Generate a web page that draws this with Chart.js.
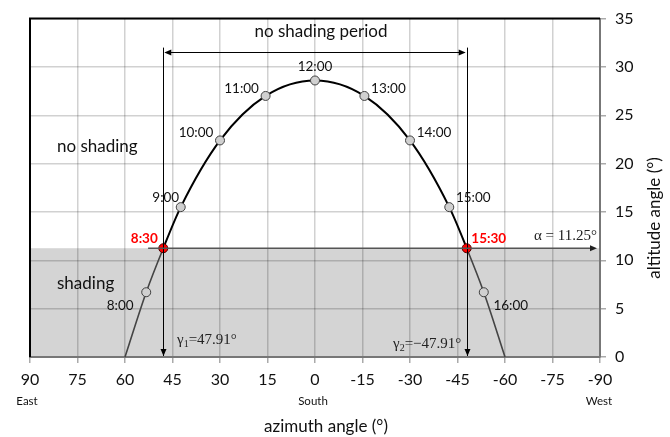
<!DOCTYPE html>
<html>
<head>
<meta charset="utf-8">
<script src="https://cdn.jsdelivr.net/npm/chart.js@4/dist/chart.umd.min.js"></script>
<style>
  html, body { margin: 0; padding: 0; background: #fff; }
  #wrap { width: 670px; height: 437px; position: relative; }
</style>
</head>
<body>
<div id="wrap"><canvas id="sunChart"></canvas></div>
<script>
// sun path points
const hours    = ["", "8:00", "8:30", "9:00", "10:00", "11:00", "12:00", "13:00", "14:00", "15:00", "15:30", "16:00", ""];
const azimuth  = [60, 53.3, 47.91, 42.4, 30.0, 15.6, 0, -15.6, -30.0, -42.4, -47.91, -53.3, -60];
const altitude = [0, 6.7, 11.25, 15.5, 22.4, 27.0, 28.6, 27.0, 22.4, 15.5, 11.25, 6.7, 0];

const xTicks = [90, 75, 60, 45, 30, 15, 0, -15, -30, -45, -60, -75, -90];
const yTicks = [0, 5, 10, 15, 20, 25, 30, 35];
const directions = [[90, "East"], [0, "South"], [-90, "West"]];

const shadingAltitude = 11.25;
const gamma1 = 47.91;
const gamma2 = -47.91;

const FONT = "Lato, 'Open Sans', sans-serif";
const SERIF = "'Liberation Serif', 'DejaVu Serif', serif";

function arrowHead(ctx, x, y, dir) {
  // dir: "left" | "right" | "down"
  ctx.beginPath();
  if (dir === "down") {
    ctx.moveTo(x, y); ctx.lineTo(x - 3, y - 7); ctx.lineTo(x + 3, y - 7);
  } else if (dir === "left") {
    ctx.moveTo(x, y); ctx.lineTo(x + 7, y - 3); ctx.lineTo(x + 7, y + 3);
  } else {
    ctx.moveTo(x, y); ctx.lineTo(x - 7, y - 3); ctx.lineTo(x - 7, y + 3);
  }
  ctx.closePath();
  ctx.fill();
}

// background shading under the obstruction angle
const shadePlugin = {
  id: "shade",
  beforeDraw(chart) {
    const { ctx, chartArea: a, scales } = chart;
    const yTop = scales.y.getPixelForValue(shadingAltitude);
    ctx.save();
    ctx.fillStyle = "#d4d4d4";
    ctx.fillRect(a.left, yTop, a.right - a.left, a.bottom - yTop);
    ctx.restore();
  }
};

// labels, arrows and frame
const notesPlugin = {
  id: "notes",
  afterDraw(chart) {
    const { ctx, chartArea: a, scales } = chart;
    const x = scales.x, y = scales.y;
    ctx.save();

    // frame: left and top dark
    ctx.strokeStyle = "#000";
    ctx.lineWidth = 2;
    ctx.beginPath();
    ctx.moveTo(a.left, a.bottom);
    ctx.lineTo(a.left, a.top);
    ctx.lineTo(a.right, a.top);
    ctx.stroke();

    // vertical lines at gamma angles
    ctx.strokeStyle = "#000";
    ctx.fillStyle = "#000";
    ctx.lineWidth = 1;
    const topV = y.getPixelForValue(32.0);
    [gamma1, gamma2].forEach(g => {
      const px = Math.round(x.getPixelForValue(g)) + 0.5;
      ctx.beginPath();
      ctx.moveTo(px, topV);
      ctx.lineTo(px, a.bottom - 1);
      ctx.stroke();
      arrowHead(ctx, px, a.bottom - 1, "down");
    });

    // no shading period double arrow
    const py = Math.round(y.getPixelForValue(31.5)) + 0.5;
    const x1 = x.getPixelForValue(gamma1) + 1, x2 = x.getPixelForValue(gamma2) - 1;
    ctx.beginPath();
    ctx.moveTo(x1 + 4, py);
    ctx.lineTo(x2 - 4, py);
    ctx.stroke();
    arrowHead(ctx, x1, py, "left");
    arrowHead(ctx, x2, py, "right");

    // alpha line
    ctx.strokeStyle = "#555";
    ctx.fillStyle = "#222";
    ctx.lineWidth = 1.5;
    const ay = y.getPixelForValue(shadingAltitude);
    const axEnd = a.right - 3;
    ctx.beginPath();
    ctx.moveTo(x.getPixelForValue(52.7), ay);
    ctx.lineTo(axEnd - 5, ay);
    ctx.stroke();
    arrowHead(ctx, axEnd, ay, "right");

    // hour labels next to points
    const meta = chart.getDatasetMeta(0);
    meta.data.forEach((pt, i) => {
      const label = hours[i];
      if (!label) return;
      const az = azimuth[i], alt = altitude[i];
      const half = label.indexOf(":30") > 0;
      let dx = 0, dy = -14;
      if (az > 0) { dx = alt < shadingAltitude ? -26 : (half ? -19 : (az > 35 ? -15 : -24)); }
      if (az < 0) { dx = alt < shadingAltitude ? 27 : (half ? 22 : 24); }
      if (az !== 0) dy = alt < shadingAltitude ? 13 : (half ? -10 : (Math.abs(az) > 35 ? -9 : -7.5));
      ctx.font = (half ? "bold " : "") + "13.5px " + FONT;
      ctx.fillStyle = half ? "#ff0000" : "#111";
      ctx.textAlign = "center";
      ctx.textBaseline = "middle";
      ctx.fillText(label, pt.x + dx, pt.y + dy);
    });

    // region texts
    ctx.fillStyle = "#111";
    ctx.font = "17px " + FONT;
    ctx.textAlign = "left";
    ctx.textBaseline = "middle";
    ctx.fillText("no shading", 57, 147);
    ctx.fillText("shading", 57, 284);
    ctx.textAlign = "center";
    ctx.fillText("no shading period", (x1 + x2) / 2 + 6, 32);

    // serif formula texts
    ctx.font = "15px " + SERIF;
    ctx.textAlign = "right";
    ctx.fillStyle = "#222";
    ctx.fillText("\u03b1 = 11.25\u00b0", a.right - 3, 236);
    ctx.textAlign = "left";
    ctx.fillText("\u03b3", 177, 340);
    let w = ctx.measureText("\u03b3").width;
    ctx.font = "10px " + SERIF;
    ctx.fillText("1", 177 + w, 344);
    let w1 = ctx.measureText("1").width;
    ctx.font = "15px " + SERIF;
    ctx.fillText("=47.91\u00b0", 177 + w + w1, 340);

    ctx.fillText("\u03b3", 393, 344);
    w = ctx.measureText("\u03b3").width;
    ctx.font = "10px " + SERIF;
    ctx.fillText("2", 393 + w, 348);
    w1 = ctx.measureText("2").width;
    ctx.font = "15px " + SERIF;
    ctx.fillText("=\u221247.91\u00b0", 393 + w + w1, 344);

    // direction words under the x ticks
    ctx.font = "11.5px " + FONT;
    ctx.fillStyle = "#111";
    ctx.textAlign = "center";
    directions.forEach(([v, t]) => {
      const px = x.getPixelForValue(v) + (v === 90 ? -3 : (v === -90 ? -1 : -2));
      ctx.fillText(t, px, 401);
    });

    // axis titles
    ctx.font = "17px " + FONT;
    ctx.fillText("azimuth angle (\u00b0)", 326, 427);
    ctx.translate(655, 218);
    ctx.rotate(-Math.PI / 2);
    ctx.fillText("altitude angle (\u00b0)", 0, 0);

    ctx.restore();
  }
};

const ctx = document.getElementById("sunChart").getContext("2d");
new Chart(ctx, {
  type: "line",
  data: {
    datasets: [
      {
        label: "sun path",
        data: azimuth.map((az, i) => ({ x: az, y: altitude[i] })),
        borderColor: "#000",
        borderWidth: 2,
        cubicInterpolationMode: "monotone",
        fill: false,
        segment: {
          borderColor: c => (c.p0.parsed.y < shadingAltitude - 0.01 || c.p1.parsed.y < shadingAltitude - 0.01) ? "#444" : "#000",
          borderWidth: c => (c.p0.parsed.y < shadingAltitude - 0.01 || c.p1.parsed.y < shadingAltitude - 0.01) ? 1.6 : 2
        },
        pointRadius: c => (altitude[c.dataIndex] === 0 ? 0 : 4.5),
        pointBackgroundColor: c => (hours[c.dataIndex].indexOf(":30") > 0 ? "#ff0000" : "#d0d0d0"),
        pointBorderColor: c => (hours[c.dataIndex].indexOf(":30") > 0 ? "#550000" : "#404040"),
        pointBorderWidth: 1,
        clip: false
      }
    ]
  },
  options: {
    responsive: true,
    maintainAspectRatio: false,
    animation: false,
    layout: { padding: { left: 30, top: 15, right: 0, bottom: 0 } },
    plugins: {
      legend: { display: false },
      tooltip: { enabled: false }
    },
    scales: {
      x: {
        type: "linear",
        position: "bottom",
        min: -90,
        max: 90,
        reverse: true,
        afterBuildTicks: s => { s.ticks = xTicks.map(v => ({ value: v })); },
        afterFit: s => { s.height = 80; },
        ticks: {
          color: "#111",
          font: { family: FONT, size: 16 },
          padding: 7,
          maxRotation: 0,
          autoSkip: false
        },
        grid: {
          color: "rgba(0,0,0,0.18)",
          lineWidth: 1.5,
          tickLength: 6,
          tickColor: "#aaa",
          tickWidth: 1.5
        },
        border: { color: "#777", width: 2 }
      },
      y: {
        type: "linear",
        position: "right",
        min: 0,
        max: 35,
        afterBuildTicks: s => { s.ticks = yTicks.map(v => ({ value: v })); },
        afterFit: s => { s.width = 70; },
        ticks: {
          color: "#111",
          font: { family: FONT, size: 16 },
          padding: 9
        },
        grid: {
          color: "rgba(0,0,0,0.18)",
          lineWidth: 1.5,
          tickLength: 6,
          tickColor: "#aaa",
          tickWidth: 1.5
        },
        border: { color: "#777", width: 2 }
      }
    }
  },
  plugins: [shadePlugin, notesPlugin]
});
</script>
</body>
</html>
